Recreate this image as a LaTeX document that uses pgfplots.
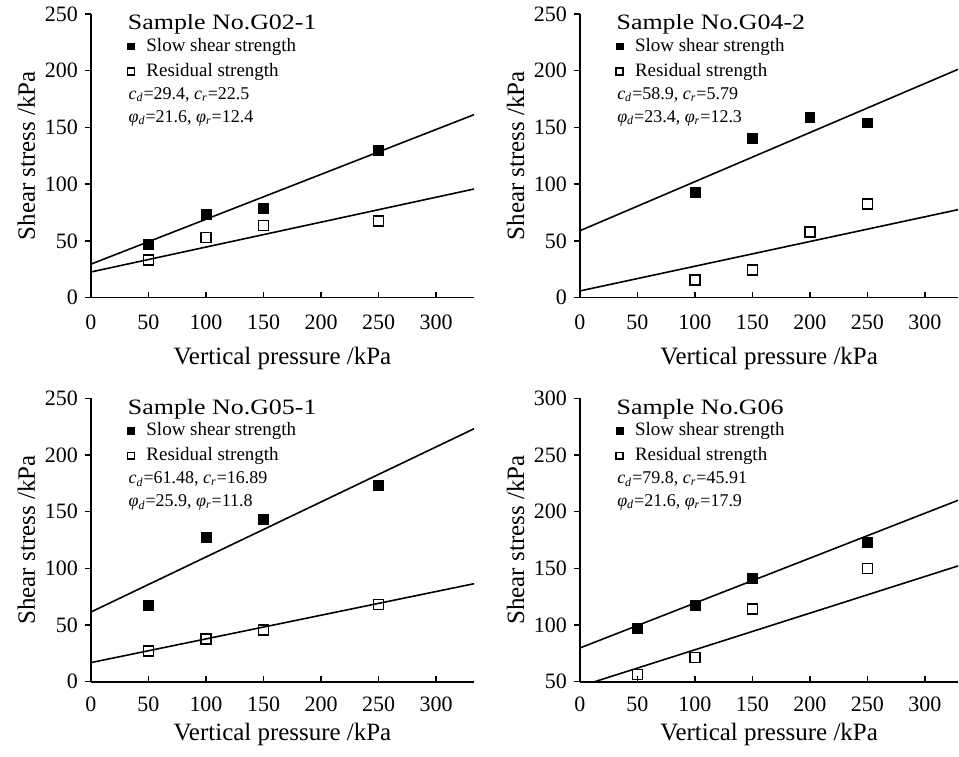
\documentclass[border=0pt]{standalone}
\usepackage{pgfplots}
\usepgfplotslibrary{groupplots}
\pgfplotsset{compat=1.18}
\usepackage{fontspec}
\setmainfont{Liberation Serif}

\newcommand{\cd}{\textit{c}\textsubscript{\textit{d}}}
\newcommand{\cre}{\textit{c}\textsubscript{\textit{r}}}
\newcommand{\fd}{\textit{φ}\textsubscript{\textit{d}}}
\newcommand{\fr}{\textit{φ}\textsubscript{\textit{r}}}

\pgfplotsset{
  shearpanel/.style={
    scale only axis,
    axis lines=left,
    axis line style={-, line width=0.8pt},
    xmin=0,
    xtick={0,50,...,300},
    xtick align=inside,
    ytick align=outside,
    major tick length=3pt,
    tick style={black, line width=0.7pt},
    /pgf/number format/assume math mode=true,
    tick label style={font=\fontsize{11}{13}\selectfont},
    xticklabel style={yshift=-5pt},
    xlabel={Vertical pressure /kPa},
    ylabel={Shear stress /kPa},
    label style={font=\fontsize{12.5}{14}\selectfont},
    xlabel style={yshift=-2pt},
    ylabel style={yshift=-2pt},
    legend style={at={(rel axis cs:0.095,0.93)}, anchor=north west,
      draw=none, fill=none, font=\fontsize{9.5}{11}\selectfont,
      row sep=0.5pt, inner sep=0pt,
      /tikz/every odd column/.style={column sep=4pt}},
    legend cell align=left,
    legend image post style={mark size=1.7pt},
  },
  % the lower panels sit closer to their labels
  lowrow/.style={xticklabel style={yshift=1pt}, xlabel style={yshift=3pt}},
  slow/.style={only marks, mark=square*, mark size=2.5pt, black},
  resid/.style={only marks, mark=square, mark size=2.5pt, black, mark options={line width=0.8pt}},
  fit/.style={black, line width=0.8pt, forget plot},
}
\tikzset{
  sample/.style={anchor=west, xscale=1.18, font=\fontsize{11}{13}\selectfont},
  params/.style={anchor=north west, align=left, font=\fontsize{9}{11.5}\selectfont},
}

\begin{document}
\begin{tikzpicture}
\begin{groupplot}[
  group style={group size=2 by 2, horizontal sep=53pt, vertical sep=50.5pt},
  shearpanel,
  height=142pt,
]
% G02-1
\nextgroupplot[width=192pt, xmax=333, ymin=0, ymax=250, ytick={0,50,...,250}]
\addplot[fit] coordinates {(0,29.4) (333,161.3)};
\addplot[fit] coordinates {(0,22.5) (333,95.7)};
\addplot[slow] coordinates {(50,47) (100,73) (150,78.5) (250,129.5)};
\addlegendentry{Slow shear strength}
\addplot[resid] coordinates {(50,33) (100,53) (150,63.5) (250,67.5)};
\addlegendentry{Residual strength}
\node[sample] at (rel axis cs:0.075,0.963) {Sample No.G02-1};
\node[params] at (rel axis cs:0.08,0.765) {\cd=29.4, \cre=22.5\\ \fd=21.6, \fr=12.4};

% G04-2
\nextgroupplot[width=189.5pt, xmax=329, ymin=0, ymax=250, ytick={0,50,...,250}]
\addplot[fit] coordinates {(0,58.9) (329,201.3)};
\addplot[fit] coordinates {(0,5.79) (329,77.5)};
\addplot[slow] coordinates {(100,93) (150,140) (200,159) (250,154)};
\addlegendentry{Slow shear strength}
\addplot[resid] coordinates {(100,15.5) (150,24.5) (200,58) (250,82.5)};
\addlegendentry{Residual strength}
\node[sample] at (rel axis cs:0.075,0.963) {Sample No.G04-2};
\node[params] at (rel axis cs:0.08,0.765) {\cd=58.9, \cre=5.79\\ \fd=23.4, \fr=12.3};

% G05-1
\nextgroupplot[width=192pt, xmax=333, ymin=0, ymax=250, ytick={0,50,...,250}, lowrow]
\addplot[fit] coordinates {(0,61.48) (333,223.2)};
\addplot[fit] coordinates {(0,16.89) (333,86.5)};
\addplot[slow] coordinates {(50,67.5) (100,127) (150,143.5) (250,173)};
\addlegendentry{Slow shear strength}
\addplot[resid] coordinates {(50,27) (100,37.5) (150,45.5) (250,68)};
\addlegendentry{Residual strength}
\node[sample] at (rel axis cs:0.075,0.963) {Sample No.G05-1};
\node[params] at (rel axis cs:0.08,0.765) {\cd=61.48, \cre=16.89\\ \fd=25.9, \fr=11.8};

% G06
\nextgroupplot[width=189.5pt, xmax=329, ymin=50, ymax=300, ytick={50,100,...,300}, lowrow]
\addplot[fit] coordinates {(0,79.8) (329,210.1)};
\addplot[fit] coordinates {(0,45.91) (329,152.2)};
\addplot[slow] coordinates {(50,97) (100,117) (150,141) (250,173)};
\addlegendentry{Slow shear strength}
\addplot[resid] coordinates {(50,56.5) (100,71.5) (150,114) (250,150)};
\addlegendentry{Residual strength}
\node[sample] at (rel axis cs:0.075,0.963) {Sample No.G06};
\node[params] at (rel axis cs:0.08,0.765) {\cd=79.8, \cre=45.91\\ \fd=21.6, \fr=17.9};
\end{groupplot}
% white margin on the left and bottom, as in the reference
\path (current bounding box.south west) ++(-5.5pt,-2pt);
\end{tikzpicture}
\end{document}
